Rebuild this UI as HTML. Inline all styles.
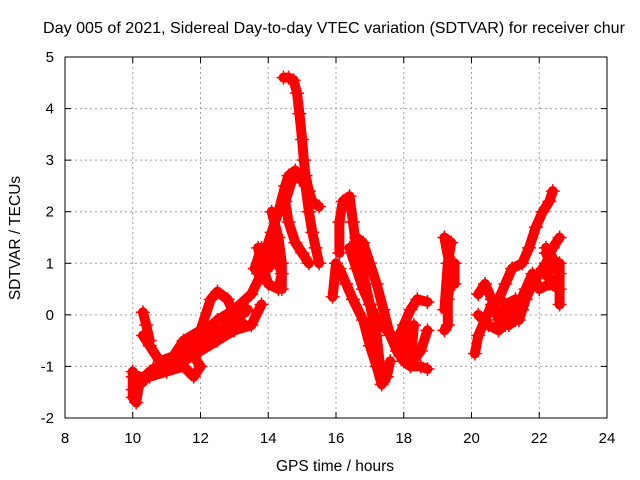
<!DOCTYPE html>
<html><head><meta charset="utf-8">
<style>body{margin:0;background:#fff}svg{display:block;font-family:"Liberation Sans",Arial,sans-serif}</style>
</head><body>
<svg id="chart" width="640" height="480" viewBox="0 0 640 480">
<rect width="640" height="480" fill="#fff"/>
<text x="334" y="33" font-size="16.1" text-anchor="middle">Day 005 of 2021, Sidereal Day-to-day VTEC variation (SDTVAR) for receiver chur</text>
<g id="grid"></g><g id="ticks"></g><g id="marks"></g>
<rect x="65" y="57" width="542" height="361" fill="none" stroke="#000" stroke-width="1"/>
<text x="335" y="471" font-size="15.5" text-anchor="middle">GPS time / hours</text>
<text x="0" y="0" font-size="15.5" text-anchor="middle" transform="translate(20,238) rotate(-90)">SDTVAR / TECUs</text>
</svg>
<script>
const xTicks=[8,10,12,14,16,18,20,22,24];
const yTicks=[-2,-1,0,1,2,3,4,5];
const track1H=[10,10,10.1,10.2,10.5,11,11.5,12,12.5,13,13.5,13.8,14,14.2];
const track1V=[-1.1,-1.6,-1.7,-1.3,-1.1,-0.9,-0.7,-0.4,-0.1,0.1,0.4,0.8,1.1,1.5];
const track2H=[10.3,10.4,10.5,10.3,10.5,10.8,11.2,11.5,12,12.3,12.5,12.8,13,13.3];
const track2V=[0.05,-0.2,-0.5,-0.4,-0.6,-0.9,-0.8,-0.5,-0.3,0.3,0.45,0.3,0,-0.2];
const track3H=[11,11.5,12,12.5,13,13.5,13.8];
const track3V=[-1.0,-0.9,-0.7,-0.5,-0.3,-0.2,0.2];
const track4H=[10,10.5,11,11.5,11.8,12,11.6];
const track4V=[-1.2,-1.2,-1.1,-1.0,-1.2,-1.0,-0.6];
const track5H=[13.7,13.9,14.1,14.3,14.5,14.6,14.8,14.9,15.0];
const track5V=[0.8,1.2,1.6,2.0,2.5,2.7,2.8,2.7,2.6];
const track5bH=[14.45,14.6,14.75,14.85,14.92,15.0,15.05,15.1,15.2,15.3,15.5];
const track5bV=[4.6,4.6,4.55,4.3,3.9,3.4,3.0,2.7,2.4,2.2,2.1];
const track6H=[14.5,14.7,14.9,15.1,15.2,15.3,15.4,15.5];
const track6V=[2.2,2.6,2.7,2.5,2.0,1.6,1.3,1.0];
const track7H=[14.1,14.3,14.4,14.4];
const track7V=[2.0,1.5,1.0,0.5];
const track7bH=[14.5,14.6,14.8,15.0,15.2];
const track7bV=[2.2,1.8,1.4,1.2,1.0];
const track8H=[16.0,15.9];
const track8V=[1.0,0.35];
const track9H=[16.1,16.1,16.2,16.4,16.5,16.6,16.8,17.0,17.2,17.3,17.4,17.5,17.6];
const track9V=[1.2,1.8,2.2,2.3,1.8,1.3,0.8,0.2,-0.4,-1.0,-1.3,-1.2,-0.9];
const track10H=[16.1,16.3,16.5,16.8,17.0,17.2,17.35];
const track10V=[0.9,0.6,0.3,-0.1,-0.6,-1.0,-1.35];
const track11H=[16.6,16.8,17.0,17.2,17.4,17.6,17.8,18.0,18.2,18.5,18.7];
const track11V=[1.5,1.4,1.0,0.6,0.1,-0.4,-0.7,-0.9,-1.0,-1.0,-1.05];
const track12H=[16.4,16.6,16.8,17.0,17.2,17.5,17.8,18.0,18.2,18.4,18.7];
const track12V=[1.3,0.9,0.5,0.2,-0.1,-0.3,-0.5,-0.2,0.1,0.3,0.25];
const track13H=[17.9,18.1,18.3,18.2,18.5,18.7];
const track13V=[-0.8,-0.4,-0.2,-0.95,-0.7,-0.3];
const track14H=[19.2,19.3,19.3,19.4,19.2,19.4,19.3,19.2];
const track14V=[-0.3,-0.2,0.3,0.8,1.5,1.4,1.0,0.1];
const track15H=[19.5,19.5];
const track15V=[1.0,0.6];
const track16H=[20.1,20.2,20.4,20.6,20.8,21.0,21.2,21.5,21.7,21.9,22.1,22.3,22.4];
const track16V=[-0.75,-0.4,-0.1,0.2,0.3,0.6,0.9,1.0,1.3,1.7,2.0,2.2,2.4];
const track17H=[20.2,20.4,20.6,20.8,21.0,21.2,21.4,21.6,21.8,22.0,22.2,22.4,22.6];
const track17V=[0.4,0.6,0.3,-0.1,-0.2,0.1,-0.1,0.3,0.6,0.8,1.0,1.3,1.5];
const track18H=[20.2,20.5,20.8,21.1,21.4,21.6,21.8,22.0,22.3,22.6,22.6,22.6,22.4,22.2];
const track18V=[0.0,-0.2,-0.3,-0.1,0.2,0.5,0.8,0.5,0.6,0.5,0.2,1.0,0.9,1.2];
const track19H=[10,10.3,10.6,11,11.4,11.8,12.2,12.6,13,13.4];
const track19V=[-1.45,-1.3,-1.05,-1.0,-0.8,-0.6,-0.45,-0.3,-0.1,0.1];
const track20H=[13.6,13.8,14.0,14.2,14.4,14.3,14.0,13.8,13.7];
const track20V=[0.9,1.3,0.9,1.2,0.8,0.5,0.6,1.0,1.3];
const track21H=[20.9,21.1,21.3,21.5,21.3,21.0,20.9];
const track21V=[0.0,-0.2,-0.1,0.1,0.3,0.2,0.0];
const track22H=[22.2,22.4,22.6,22.5,22.3,22.1];
const track22V=[1.3,1.1,0.8,0.6,0.7,0.9];
const tracksH=[track1H,track2H,track3H,track4H,track5H,track5bH,track6H,track7H,track7bH,track8H,track9H,track10H,track11H,track12H,track13H,track14H,track15H,track16H,track17H,track18H,track19H,track20H,track21H,track22H];
const tracksV=[track1V,track2V,track3V,track4V,track5V,track5bV,track6V,track7V,track7bV,track8V,track9V,track10V,track11V,track12V,track13V,track14V,track15V,track16V,track17V,track18V,track19V,track20V,track21V,track22V];

const NS='http://www.w3.org/2000/svg';
const X0=65,X1=607,Y0=418,Y1=57;
function xs(h){return X0+(h-8)/16*(X1-X0);}
function ys(v){return Y0-(v+2)/7*(Y0-Y1);}
function mk(t,a,p){const e=document.createElementNS(NS,t);for(const k in a)e.setAttribute(k,a[k]);p.appendChild(e);return e;}
const grid=document.getElementById('grid'),ticks=document.getElementById('ticks'),marks=document.getElementById('marks');
xTicks.forEach(t=>{const x=xs(t);
 if(t>8&&t<24){const g=mk('line',{x1:x,x2:x,y1:Y1,y2:Y0,stroke:'#a0a0a0','stroke-dasharray':'2,3'},grid);
 
 }
 mk('line',{x1:x,x2:x,y1:Y0,y2:Y0-6,stroke:'#000'},ticks);
 mk('line',{x1:x,x2:x,y1:Y1,y2:Y1+6,stroke:'#000'},ticks);
 const l=mk('text',{x:x,y:443,'font-size':15,'text-anchor':'middle'},ticks);l.textContent=t;
 
 });
yTicks.forEach(t=>{const y=ys(t);
 if(t>-2&&t<5){const g=mk('line',{x1:X0,x2:X1,y1:y,y2:y,stroke:'#a0a0a0','stroke-dasharray':'2,3'},grid);
 
 }
 mk('line',{x1:X0,x2:X0+6,y1:y,y2:y,stroke:'#000'},ticks);
 mk('line',{x1:X1,x2:X1-6,y1:y,y2:y,stroke:'#000'},ticks);
 const l=mk('text',{x:54,y:y+5,'font-size':15,'text-anchor':'end'},ticks);l.textContent=t;
 
 });
tracksH.forEach((H,i)=>{const V=tracksV[i];
 const pts=H.map((h,j)=>xs(h)+','+ys(V[j])).join(' ');
 const pl=mk('polyline',{points:pts,fill:'none',stroke:'#f00','stroke-width':10,'stroke-linejoin':'round','stroke-linecap':'round'},marks);
 
 
 H.forEach((h,j)=>{const x=xs(h),y=ys(V[j]);
  const p=mk('path',{d:`M${x-7},${y}h14M${x},${y-7}v14`,stroke:'#f00','stroke-width':1.5},marks);
  
  });});
</script>
</body></html>
